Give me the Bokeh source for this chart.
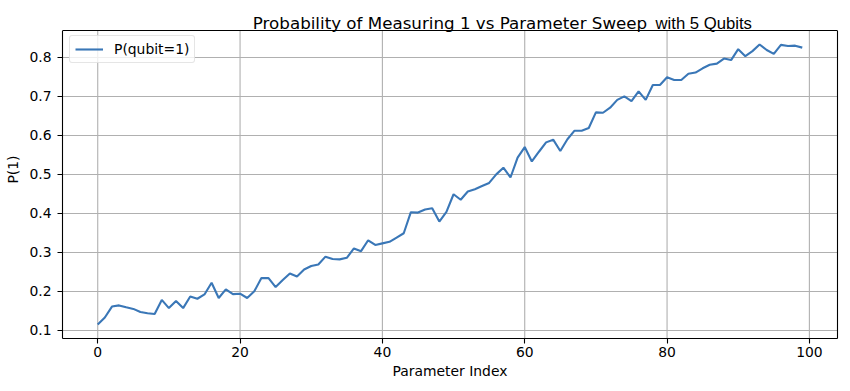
from bokeh.plotting import figure
from bokeh.models import (Label, FixedTicker, Range1d, Legend, LegendItem, ColumnDataSource,
                          LinearAxis, Span)
from bokeh.embed import file_html
from bokeh.resources import INLINE

# ---- data ----
param_index = list(range(100))
p_qubit1 = [
    0.115, 0.133, 0.161, 0.164, 0.159, 0.155, 0.147, 0.144, 0.142, 0.178,
    0.157, 0.175, 0.157, 0.187, 0.181, 0.192, 0.222, 0.183, 0.205, 0.193,
    0.194, 0.183, 0.200, 0.234, 0.234, 0.211, 0.229, 0.246, 0.238, 0.256,
    0.265, 0.269, 0.289, 0.283, 0.282, 0.286, 0.310, 0.303, 0.331, 0.319,
    0.323, 0.327, 0.338, 0.349, 0.403, 0.402, 0.410, 0.413, 0.379, 0.404,
    0.449, 0.435, 0.456, 0.462, 0.470, 0.478, 0.500, 0.517, 0.492, 0.543,
    0.570, 0.533, 0.558, 0.582, 0.589, 0.560, 0.590, 0.612, 0.612, 0.619,
    0.659, 0.658, 0.671, 0.691, 0.700, 0.688, 0.713, 0.691, 0.729, 0.729,
    0.749, 0.742, 0.742, 0.758, 0.761, 0.772, 0.781, 0.784, 0.797, 0.793,
    0.821, 0.803, 0.816, 0.833, 0.819, 0.809, 0.832, 0.829, 0.830, 0.825,
]
x_ticks = [0, 20, 40, 60, 80, 100]
x_tick_labels = ["0", "20", "40", "60", "80", "100"]
y_ticks = [0.1, 0.2, 0.3, 0.4, 0.5, 0.6, 0.7, 0.8]
y_tick_labels = ["0.1", "0.2", "0.3", "0.4", "0.5", "0.6", "0.7", "0.8"]
title_main = "Probability of Measuring 1 vs Parameter Sweep"
title_extra = "with 5 Qubits"
series_label = "P(qubit=1)"
x_label = "Parameter Index"
y_label = "P(1)"

FONT = "DejaVu Sans"
LINE_COLOR = "#3a77b7"
GRID_COLOR = "#b0b0b0"

W, H = 850, 391
BL, BR, BB = 62, 13, 53
TOP_GAP = 30                     # space above the axes box for the title
FW = W - BL - BR
FH_FULL = H - BB                 # frame spans the title area too
FH = FH_FULL - TOP_GAP           # visible axes box height

xmin, xmax = min(param_index), max(param_index)
ymin, ymax = min(p_qubit1), max(p_qubit1)
xm = 0.05 * (xmax - xmin)
ym = 0.05 * (ymax - ymin)
x0, x1 = xmin - xm, xmax + xm
y0, y1 = ymin - ym, ymax + ym
y_top = y0 + (y1 - y0) * FH_FULL / FH

p = figure(width=W, height=H, output_backend="svg", toolbar_location=None,
           title_location=None,
           x_range=Range1d(x0, x1), y_range=Range1d(y0, y_top),
           min_border_left=BL, min_border_right=BR, min_border_top=0, min_border_bottom=BB)
p.background_fill_color = "white"
p.border_fill_color = "white"
p.outline_line_color = None

# vertical grid lines limited to the axes box
p.xgrid.visible = False
p.segment(x0=x_ticks, y0=[y0] * len(x_ticks), x1=x_ticks, y1=[y1] * len(x_ticks),
          line_color=GRID_COLOR, line_width=1.1)
p.ygrid.ticker = FixedTicker(ticks=y_ticks)
p.ygrid.grid_line_color = GRID_COLOR
p.ygrid.grid_line_width = 1.1

src = ColumnDataSource(dict(x=param_index, y=p_qubit1))
r = p.line("x", "y", source=src, line_color=LINE_COLOR, line_width=2.1)

for ax in (p.xaxis[0], p.yaxis[0]):
    ax.axis_line_color = "black"
    ax.axis_line_width = 1.1
    ax.major_tick_line_color = "black"
    ax.major_tick_line_width = 1.1
    ax.major_tick_out = 5
    ax.major_tick_in = 0
    ax.minor_tick_line_color = None
    ax.major_label_text_font = FONT
    ax.major_label_text_font_size = "13.9px"
    ax.major_label_text_color = "black"
    ax.axis_label_text_font = FONT
    ax.axis_label_text_font_size = "13.9px"
    ax.axis_label_text_font_style = "normal"
    ax.axis_label_text_color = "black"

p.xaxis.ticker = FixedTicker(ticks=x_ticks)
p.xaxis.major_label_overrides = dict(zip(x_ticks, x_tick_labels))
p.yaxis.ticker = FixedTicker(ticks=y_ticks)
p.yaxis.major_label_overrides = dict(zip(y_ticks, y_tick_labels))
p.yaxis.bounds = (y0, y1)
p.xaxis.major_label_standoff = 3
p.yaxis.major_label_standoff = 6
p.xaxis.axis_label = x_label
p.yaxis.axis_label = y_label
p.xaxis.axis_label_standoff = 3
p.yaxis.axis_label_standoff = 5

# right and top edges of the axes box
right_axis = LinearAxis(ticker=FixedTicker(ticks=[]), bounds=(y0, y1),
                        axis_line_color="black", axis_line_width=1.1,
                        major_tick_line_color=None, minor_tick_line_color=None,
                        major_label_text_font_size="0px")
p.add_layout(right_axis, "right")
p.add_layout(Span(location=y1, dimension="width", line_color="black", line_width=1.1))

legend = Legend(items=[LegendItem(label=series_label, renderers=[r])])
legend.padding = 5
legend.glyph_width = 28
legend.glyph_height = 16
legend.label_height = 16
legend.label_standoff = 11
legend.label_text_font = FONT
legend.label_text_font_size = "13.9px"
legend.label_text_color = "black"
legend.border_line_color = "#cccccc"
legend.border_line_width = 1
legend.background_fill_color = "white"
legend.background_fill_alpha = 0.8
legend.location = (7, FH - 7 - 26)
if "border_radius" in Legend.properties():
    legend.border_radius = 3
p.add_layout(legend)

title_y = FH + 7.3
t1 = Label(x=FW / 2, y=title_y, x_units="screen", y_units="screen", text=title_main,
           text_font=FONT, text_font_size="16.7px", text_color="black",
           text_align="center", text_baseline="alphabetic")
t2 = Label(x=593, y=title_y, x_units="screen", y_units="screen", text=title_extra,
           text_font="Liberation Sans", text_font_size="16.7px", text_color="black",
           text_align="left", text_baseline="alphabetic")
p.add_layout(t1)
p.add_layout(t2)

open("out.html", "w").write(file_html(p, INLINE))
